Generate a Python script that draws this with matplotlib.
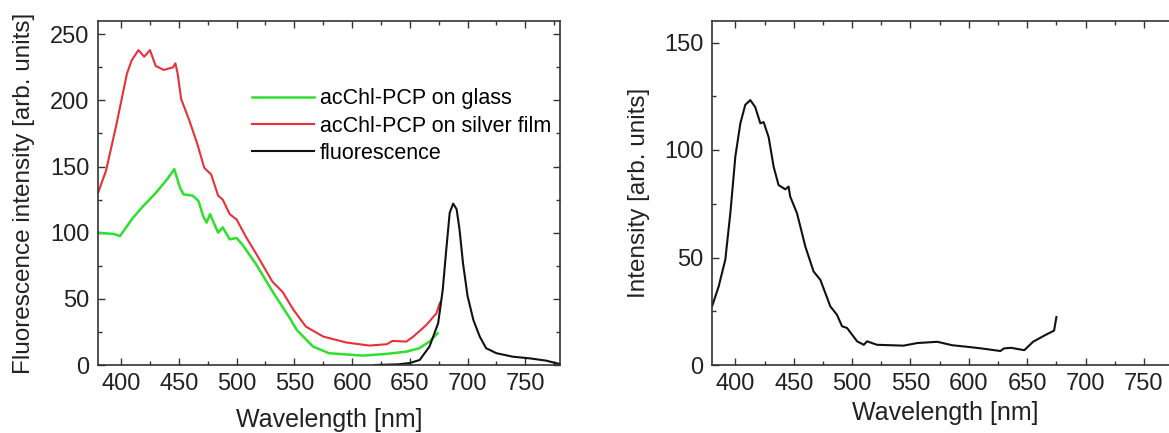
import matplotlib.pyplot as plt
from matplotlib.ticker import MultipleLocator

plt.rcParams['font.family'] = ['Liberation Sans', 'DejaVu Sans']

# left panel: excitation spectra
wl_glass = [380, 394, 399, 410, 419, 430, 440, 446, 451, 454, 462, 467, 471, 474,
            477, 484, 488, 494, 500, 505, 517, 531, 546, 552, 566, 580, 609, 630,
            647, 658, 667, 674]
glass = [100, 99, 97.4, 111, 120, 130, 140.5, 148, 134, 129, 128, 124, 112.6, 107.6,
         114, 100, 104, 95, 96, 91, 76, 55.7, 35.5, 26.6, 14, 8.9, 7.1, 8.4,
         10.1, 12.6, 17.7, 24]

wl_silver = [380, 387, 396, 405, 409, 415, 420, 425, 430, 437, 445, 447, 449, 452,
             459, 466, 472, 478, 484, 488, 494, 500, 508, 517, 531, 540, 549, 560,
             575, 595, 615, 630, 635, 647, 653, 664, 673, 676]
silver = [130, 147, 182, 220, 230, 238, 233, 238, 226, 223, 225, 228, 220, 201,
          185, 167, 149, 144, 128, 125, 114, 110, 97, 84, 63, 55, 42, 29,
          21.5, 17, 14.7, 15.7, 18.2, 17.7, 21.5, 30, 39, 47]

wl_fl = [620, 640, 650, 658.5, 667, 674.5, 678.5, 681.5, 684.5, 687.5, 690.5, 693,
         696, 700, 705, 710.5, 716, 725, 739, 754, 768, 777, 780]
fl = [0, 0.5, 1.5, 3.8, 13.9, 31.6, 57, 87, 115, 122, 117.7, 102.5,
      77, 52, 34, 21.5, 12.7, 8.9, 6.3, 5, 3.3, 1.3, 0.8]

# right panel
wl_exc = [380, 385.7, 391.4, 395.7, 400, 404.3, 408.5, 412.8, 417, 421.4, 424.2,
          428.5, 432.8, 437, 442.8, 445.6, 447, 452.8, 460, 467, 472.8, 481.4,
          487, 491.4, 495.7, 504.3, 510, 512.8, 521.4, 544, 555.7, 573, 585.6,
          598, 611, 627, 630, 636, 647.5, 655, 665, 673, 675]
exc = [27.2, 36.5, 49, 70.6, 97, 112.4, 121, 123.2, 120, 112.4, 113,
       106, 92.2, 83.7, 81.7, 83, 78.3, 70.6, 55, 43.5, 39.6, 27.2,
       23.4, 18, 17.2, 11, 9.4, 11, 9.4, 9, 10.2, 10.8, 9.2,
       8.5, 7.7, 6.5, 7.7, 8, 6.9, 10.8, 13.8, 16, 22.3]

W, H = 1169, 433
fig = plt.figure(figsize=(W / 100, H / 100), dpi=100)

ax1 = fig.add_axes([98 / W, 1 - 365 / H, 462 / W, 344 / H])
ax2 = fig.add_axes([712 / W, 1 - 365 / H, 467 / W, 344 / H])


def style(ax):
    ax.tick_params(which='both', direction='in', top=True, right=True,
                   labelsize=17, pad=6, color='#333333', labelcolor='#222222')
    ax.tick_params(which='major', length=5, width=1)
    ax.tick_params(which='minor', length=3, width=1)
    ax.xaxis.set_major_locator(MultipleLocator(50))
    ax.xaxis.set_minor_locator(MultipleLocator(25))
    ax.yaxis.set_major_locator(MultipleLocator(50))
    ax.yaxis.set_minor_locator(MultipleLocator(25))
    for s in ax.spines.values():
        s.set_linewidth(1.2)
        s.set_color('#333333')
    ax.set_xlim(380, 780)


ax1.plot(wl_glass, glass, color='#2ee02e', lw=1.8, label='acChl-PCP on glass')
ax1.plot(wl_silver, silver, color='#e8303a', lw=1.5, label='acChl-PCP on silver film')
ax1.plot(wl_fl, fl, color='#111111', lw=1.5, label='fluorescence')
style(ax1)
ax1.set_ylim(0, 260)
ax1.set_xlabel('Wavelength [nm]', fontsize=18, color='#222222', labelpad=9)
ax1.set_ylabel('Fluorescence intensity [arb. units]', fontsize=17.5, color='#222222',
               labelpad=11)
ax1.legend(loc='upper left', bbox_to_anchor=(0.333, 0.805), frameon=False,
           fontsize=15.5, handlelength=2.9, handletextpad=0.25, labelspacing=0.3,
           borderpad=0, borderaxespad=0)

ax2.plot(wl_exc, exc, color='#111111', lw=1.5)
style(ax2)
ax2.set_ylim(0, 160)
ax2.set_xlabel('Wavelength [nm]', fontsize=18, color='#222222', labelpad=4)
ax2.set_ylabel('Intensity [arb. units]', fontsize=17.5, color='#222222', labelpad=10)

plt.savefig('out.png', dpi=100)
